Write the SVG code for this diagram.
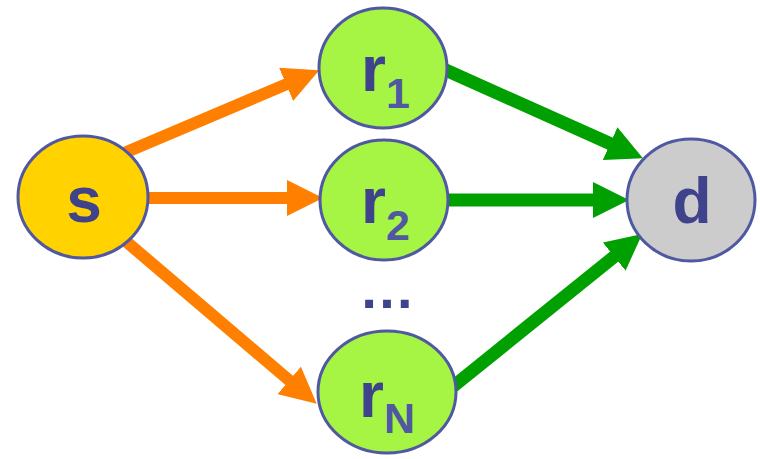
<svg xmlns="http://www.w3.org/2000/svg" width="760" height="459" viewBox="0 0 760 459">
<style>
.node{stroke:#4F58A0;stroke-width:3}
.src{fill:#FFD200}
.rel{fill:#A6F545}
.dst{fill:#CCCCCC}
.lbl{font-family:"Liberation Sans",Arial,sans-serif;font-weight:bold;font-size:64px;fill:#3F438C}
.sub{font-size:43px;fill:#4F58A0}
.o{stroke:#FF8000;stroke-width:12;fill:none;marker-end:url(#ho)}
.g{stroke:#00A000;stroke-width:13;fill:none;marker-end:url(#hg)}
</style>
<defs>
<marker id="ho" viewBox="0 0 36 36" refX="1" refY="18" markerWidth="36" markerHeight="36" markerUnits="userSpaceOnUse" orient="auto">
<path d="M0,0 L36,18 L0,36 z" fill="#FF8000"/>
</marker>
<marker id="hg" viewBox="0 0 36 36" refX="1" refY="18" markerWidth="36" markerHeight="36" markerUnits="userSpaceOnUse" orient="auto">
<path d="M0,0 L36,18 L0,36 z" fill="#00A000"/>
</marker>
</defs>
<g id="connectors">
<line class="o" x1="110" y1="159" x2="287" y2="84"/>
<line class="o" x1="140" y1="198" x2="288" y2="198"/>
<line class="o" x1="115" y1="232" x2="290" y2="381"/>
<line class="g" x1="430" y1="63" x2="611" y2="144"/>
<line class="g" x1="440" y1="200" x2="594" y2="200"/>
<line class="g" x1="440" y1="397" x2="615" y2="256"/>
</g>
<g id="s">
<ellipse class="node src" cx="83" cy="197" rx="65" ry="61"/>
<text class="lbl" x="84" y="222" text-anchor="middle">s</text>
</g>
<g id="r1">
<ellipse class="node rel" cx="383" cy="68" rx="64" ry="60"/>
<text class="lbl" x="361" y="91">r<tspan class="sub" y="108">1</tspan></text>
</g>
<g id="r2">
<ellipse class="node rel" cx="384" cy="200" rx="64" ry="60"/>
<text class="lbl" x="361" y="223">r<tspan class="sub" y="240">2</tspan></text>
</g>
<g id="dots">
<text class="lbl" x="387" y="308" text-anchor="middle" style="font-size:56px">…</text>
</g>
<g id="rN">
<ellipse class="node rel" cx="387" cy="392" rx="69" ry="61"/>
<text class="lbl" x="359" y="417">r<tspan class="sub" y="433">N</tspan></text>
</g>
<g id="d">
<ellipse class="node dst" cx="691" cy="200" rx="64" ry="61"/>
<text class="lbl" x="692" y="223" text-anchor="middle">d</text>
</g>
</svg>
